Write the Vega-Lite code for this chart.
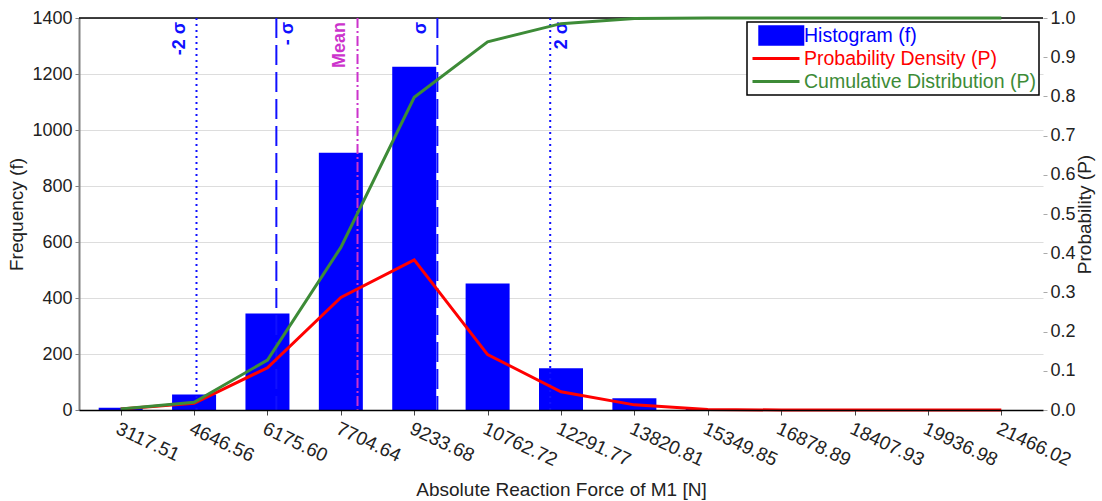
{
  "$schema": "https://vega.github.io/schema/vega-lite/v6.json",
  "width": 964,
  "height": 392,
  "autosize": {"type": "none"},
  "padding": {"left": 79, "top": 18, "right": 59, "bottom": 91},
  "background": "white",
  "config": {
    "font": "Liberation Sans",
    "view": {"stroke": null},
    "axis": {
      "labelFont": "Liberation Sans",
      "titleFont": "Liberation Sans",
      "labelFontSize": 18,
      "titleFontSize": 19,
      "titleFontWeight": "normal",
      "labelColor": "#222222",
      "titleColor": "#222222",
      "labelOverlap": false
    }
  },
  "datasets": {
    "bins": [
      {"force": 3117.51, "frequency": 8, "pdf": 0.0025, "cdf": 0.0025},
      {"force": 4646.56, "frequency": 55, "pdf": 0.0172, "cdf": 0.0197},
      {"force": 6175.60, "frequency": 345, "pdf": 0.1078, "cdf": 0.1275},
      {"force": 7704.64, "frequency": 919, "pdf": 0.2872, "cdf": 0.4147},
      {"force": 9233.68, "frequency": 1226, "pdf": 0.3831, "cdf": 0.7978},
      {"force": 10762.72, "frequency": 452, "pdf": 0.1413, "cdf": 0.9391},
      {"force": 12291.77, "frequency": 149, "pdf": 0.0466, "cdf": 0.9856},
      {"force": 13820.81, "frequency": 42, "pdf": 0.0131, "cdf": 0.9988},
      {"force": 15349.85, "frequency": 4, "pdf": 0.0013, "cdf": 1.0},
      {"force": 16878.89, "frequency": 0, "pdf": 0.0, "cdf": 1.0},
      {"force": 18407.93, "frequency": 0, "pdf": 0.0, "cdf": 1.0},
      {"force": 19936.98, "frequency": 0, "pdf": 0.0, "cdf": 1.0},
      {"force": 21466.02, "frequency": 0, "pdf": 0.0, "cdf": 1.0}
    ],
    "stats": [
      {"name": "-2 σ", "value": 4697},
      {"name": "- σ", "value": 6361},
      {"name": "Mean", "value": 8052},
      {"name": "σ", "value": 9716},
      {"name": "2 σ", "value": 12067}
    ]
  },
  "layer": [
    {
      "layer": [
        {
          "data": {"name": "bins"},
          "mark": {"type": "bar", "orient": "vertical", "width": 44},
          "encoding": {
            "x": {
              "field": "force",
              "type": "quantitative",
              "scale": {"domain": [2352.99, 22230.54], "nice": false, "zero": false},
              "axis": {
                "title": "Absolute Reaction Force of M1 [N]",
                "values": [3117.51, 4646.56, 6175.60, 7704.64, 9233.68, 10762.72, 12291.77, 13820.81, 15349.85, 16878.89, 18407.93, 19936.98, 21466.02],
                "format": ".2f",
                "labelAngle": 25,
                "labelAlign": "left",
                "labelBaseline": "top",
                "labelFontSize": 19,
                "labelFlush": false,
                "labelBound": false,
                "tickSize": 5,
                "tickColor": "#444444",
                "labelPadding": 4,
                "domainColor": "#000000",
                "domainWidth": 1.5,
                "grid": false,
                "titlePadding": 11,
                "zindex": 1
              }
            },
            "y": {
              "field": "frequency",
              "type": "quantitative",
              "scale": {"domain": [0, 1400], "nice": false, "zero": true},
              "axis": {
                "title": "Frequency (f)",
                "values": [0, 100, 200, 300, 400, 500, 600, 700, 800, 900, 1000, 1100, 1200, 1300, 1400],
                "format": "d",
                "labelExpr": "datum.value % 200 === 0 ? datum.label : ''",
                "grid": true,
                "gridColor": {"condition": {"test": "datum.value % 200 === 0", "value": "#dddddd"}, "value": "#a8a8a8"},
                "gridDash": {"condition": {"test": "datum.value % 200 === 0", "value": []}, "value": [1, 3]},
                "tickOpacity": {"condition": {"test": "datum.value % 200 === 0", "value": 1}, "value": 0},
                "tickSize": 4,
                "tickColor": "#808080",
                "domainColor": "#808080",
                "domainWidth": 2,
                "labelPadding": 3,
                "titleAngle": 270,
                "titleBaseline": "bottom",
                "titlePadding": 5
              }
            },
            "color": {
              "datum": "Histogram (f)",
              "scale": {
                "domain": ["Histogram (f)", "Probability Density (P)", "Cumulative Distribution (P)"],
                "range": ["#0000ff", "#ff0000", "#3d8b37"]
              },
              "legend": {
                "title": null,
                "orient": "top-right",
                "offset": 4,
                "strokeColor": "#000000",
                "fillColor": "#ffffff",
                "padding": 3,
                "labelFont": "Liberation Sans",
                "labelFontSize": 19.5,
                "labelLimit": 400,
                "symbolSize": 2209,
                "symbolStrokeWidth": 3,
                "clipHeight": 21,
                "rowPadding": 2,
                "symbolOffset": 1,
                "labelOffset": 3,
                "encode": {
                  "legend": {"update": {"strokeWidth": {"value": 1.5}}},
                  "labels": {
                    "update": {
                      "fill": {"signal": "datum.value === 'Histogram (f)' ? '#0000ff' : datum.value === 'Probability Density (P)' ? '#ff0000' : '#3d8b37'"}
                    }
                  },
                  "symbols": {
                    "update": {
                      "shape": {"signal": "datum.value === 'Histogram (f)' ? 'M-0.69,-0.37H1.14V0.37H-0.69Z' : 'M-1,0H1'"},
                      "fill": {"signal": "datum.value === 'Histogram (f)' ? '#0000ff' : 'transparent'"},
                      "stroke": {"signal": "datum.value === 'Histogram (f)' ? 'transparent' : datum.value === 'Probability Density (P)' ? '#ff0000' : '#3d8b37'"},
                      "opacity": {"value": 1},
                      "fillOpacity": {"value": 1},
                      "strokeOpacity": {"value": 1}
                    }
                  }
                }
              }
            }
          }
        },
        {
          "data": {"values": [{}]},
          "mark": {"type": "rule", "color": "#000000", "strokeWidth": 1.5},
          "encoding": {"y": {"datum": 1400}}
        },
        {
          "data": {"name": "stats"},
          "transform": [{"filter": "datum.name === '-2 σ' || datum.name === '2 σ'"}],
          "mark": {"type": "rule", "color": "#1010ff", "strokeWidth": 2, "strokeDash": [2, 4]},
          "encoding": {"x": {"field": "value", "type": "quantitative"}}
        },
        {
          "data": {"name": "stats"},
          "transform": [{"filter": "datum.name === '- σ' || datum.name === 'σ'"}],
          "mark": {"type": "rule", "color": "#1010ff", "strokeWidth": 2, "strokeDash": [20, 7]},
          "encoding": {"x": {"field": "value", "type": "quantitative"}}
        },
        {
          "data": {"name": "stats"},
          "transform": [{"filter": "datum.name === 'Mean'"}],
          "mark": {"type": "rule", "color": "#cc33cc", "strokeWidth": 2, "strokeDash": [10, 3, 2, 3]},
          "encoding": {"x": {"field": "value", "type": "quantitative"}}
        },
        {
          "data": {"name": "stats"},
          "transform": [{"filter": "datum.name === '-2 σ' || datum.name === 'σ'"}],
          "mark": {"type": "text", "angle": 270, "align": "right", "baseline": "alphabetic", "dx": -4, "dy": -11, "font": "Liberation Sans", "fontSize": 18, "fontWeight": "bold", "color": "#1010ff"},
          "encoding": {
            "x": {"field": "value", "type": "quantitative"},
            "y": {"datum": 1400},
            "text": {"field": "name"}
          }
        },
        {
          "data": {"name": "stats"},
          "transform": [{"filter": "datum.name === '- σ' || datum.name === '2 σ'"}],
          "mark": {"type": "text", "angle": 270, "align": "right", "baseline": "alphabetic", "dx": -4, "dy": 17, "font": "Liberation Sans", "fontSize": 18, "fontWeight": "bold", "color": "#1010ff"},
          "encoding": {
            "x": {"field": "value", "type": "quantitative"},
            "y": {"datum": 1400},
            "text": {"field": "name"}
          }
        },
        {
          "data": {"name": "stats"},
          "transform": [{"filter": "datum.name === 'Mean'"}],
          "mark": {"type": "text", "angle": 270, "align": "right", "baseline": "alphabetic", "dx": -4, "dy": -13, "font": "Liberation Sans", "fontSize": 18, "fontWeight": "bold", "color": "#cc33cc"},
          "encoding": {
            "x": {"field": "value", "type": "quantitative"},
            "y": {"datum": 1400},
            "text": {"field": "name"}
          }
        }
      ]
    },
    {
      "layer": [
        {
          "data": {"name": "bins"},
          "mark": {"type": "line", "strokeWidth": 3},
          "encoding": {
            "x": {"field": "force", "type": "quantitative"},
            "y": {
              "field": "pdf",
              "type": "quantitative",
              "scale": {"domain": [0, 1], "nice": false},
              "axis": {
                "orient": "right",
                "title": "Probability (P)",
                "values": [0, 0.1, 0.2, 0.3, 0.4, 0.5, 0.6, 0.7, 0.8, 0.9, 1.0],
                "format": ".1f",
                "domain": false,
                "grid": false,
                "tickSize": 4,
                "tickColor": "#aaaaaa",
                "labelPadding": 3,
                "titleAngle": 270,
                "titleBaseline": "top",
                "titlePadding": 0
              }
            },
            "color": {
              "datum": "Probability Density (P)",
              "scale": {
                "domain": ["Histogram (f)", "Probability Density (P)", "Cumulative Distribution (P)"],
                "range": ["#0000ff", "#ff0000", "#3d8b37"]
              }
            }
          }
        },
        {
          "data": {"name": "bins"},
          "mark": {"type": "line", "strokeWidth": 3},
          "encoding": {
            "x": {"field": "force", "type": "quantitative"},
            "y": {
              "field": "cdf",
              "type": "quantitative",
              "scale": {"domain": [0, 1], "nice": false},
              "axis": {
                "orient": "right",
                "title": "Probability (P)",
                "values": [0, 0.1, 0.2, 0.3, 0.4, 0.5, 0.6, 0.7, 0.8, 0.9, 1.0],
                "format": ".1f",
                "domain": false,
                "grid": false,
                "tickSize": 4,
                "tickColor": "#aaaaaa",
                "labelPadding": 3,
                "titleAngle": 270,
                "titleBaseline": "top",
                "titlePadding": 0
              }
            },
            "color": {
              "datum": "Cumulative Distribution (P)",
              "scale": {
                "domain": ["Histogram (f)", "Probability Density (P)", "Cumulative Distribution (P)"],
                "range": ["#0000ff", "#ff0000", "#3d8b37"]
              }
            }
          }
        }
      ]
    }
  ],
  "resolve": {"scale": {"y": "independent"}}
}
